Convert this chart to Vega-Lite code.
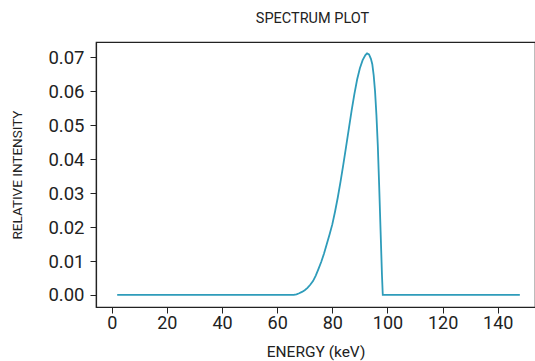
{
  "$schema": "https://vega.github.io/schema/vega-lite/v6.json",
  "autosize": {"type": "none"},
  "width": 439,
  "height": 265,
  "padding": {"left": 96, "top": 42, "right": 0, "bottom": 54},
  "background": "white",
  "title": {"text": "SPECTRUM PLOT", "fontSize": 14.5, "font": "Roboto", "fontWeight": "normal", "color": "#222222", "offset": 16, "dx": -3},
  "config": {
    "view": {"stroke": "#222222", "strokeWidth": 1.2},
    "axis": {"labelFont": "Roboto", "titleFont": "Roboto", "labelColor": "#222222", "titleColor": "#222222", "titleFontWeight": "normal", "domainColor": "#222222", "tickColor": "#222222", "grid": false, "domainWidth": 1.2, "tickWidth": 1, "labelOverlap": false}
  },
  "data": {"values": [
    {"e": 2, "i": 0}, {"e": 66, "i": 0}, {"e": 67, "i": 0.0002}, {"e": 68, "i": 0.0005},
    {"e": 69, "i": 0.0009}, {"e": 70, "i": 0.0014}, {"e": 71, "i": 0.0021}, {"e": 72, "i": 0.003},
    {"e": 73, "i": 0.0041}, {"e": 74, "i": 0.0057}, {"e": 75, "i": 0.0077}, {"e": 76, "i": 0.0098},
    {"e": 77, "i": 0.0122}, {"e": 78, "i": 0.015}, {"e": 79, "i": 0.0178}, {"e": 80, "i": 0.0208},
    {"e": 81, "i": 0.0246}, {"e": 82, "i": 0.0288}, {"e": 83, "i": 0.0335}, {"e": 84, "i": 0.0385},
    {"e": 85, "i": 0.0437}, {"e": 86, "i": 0.049}, {"e": 87, "i": 0.0543}, {"e": 88, "i": 0.0592},
    {"e": 89, "i": 0.0635}, {"e": 90, "i": 0.0668}, {"e": 91, "i": 0.0692}, {"e": 92, "i": 0.0707},
    {"e": 92.6, "i": 0.0712}, {"e": 93.3, "i": 0.0709}, {"e": 94, "i": 0.0696}, {"e": 94.5, "i": 0.068},
    {"e": 95, "i": 0.0648}, {"e": 95.5, "i": 0.06}, {"e": 96, "i": 0.053}, {"e": 96.5, "i": 0.044},
    {"e": 97, "i": 0.032}, {"e": 97.5, "i": 0.019}, {"e": 98, "i": 0.006}, {"e": 98.3, "i": 0},
    {"e": 148, "i": 0}
  ]},
  "mark": {"type": "line", "color": "#2e9cba", "strokeWidth": 1.8},
  "encoding": {
    "x": {"field": "e", "type": "quantitative", "scale": {"domain": [-5.69, 153.5], "nice": false, "zero": false},
          "axis": {"title": "ENERGY (keV)", "titleFontSize": 15.5, "labelFontSize": 18, "values": [0, 20, 40, 60, 80, 100, 120, 140], "tickSize": 6, "labelPadding": 1, "titlePadding": 12, "labelFlush": false}},
    "y": {"field": "i", "type": "quantitative", "scale": {"domain": [-0.00355, 0.07455], "nice": false, "zero": false},
          "axis": {"title": "RELATIVE INTENSITY", "titleFontSize": 13.5, "labelFontSize": 18.5, "format": ".2f", "values": [0, 0.01, 0.02, 0.03, 0.04, 0.05, 0.06, 0.07], "tickSize": 6, "labelPadding": 6, "titlePadding": 23}}
  }
}
